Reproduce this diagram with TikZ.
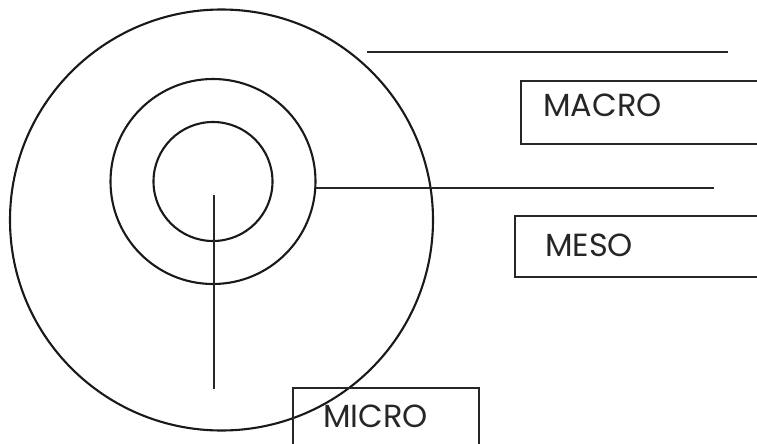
\documentclass[tikz,border=0pt]{standalone}
\usepackage{fontspec}
\setmainfont{Poppins}
\begin{document}
\begin{tikzpicture}[x=1pt,y=-1pt,
  ring/.style={draw=black!90,line width=2.1pt},
  rule/.style={draw=black!85,line width=2.3pt},
  labelbox/.style={draw=black!85,line width=2.3pt},
  lab/.style={anchor=base west,inner sep=0pt,font=\fontsize{32}{36}\selectfont,text=black!85}]
\useasboundingbox (0,0) rectangle (757,444);
\clip (0,0) rectangle (757,444);
% rings
\draw[ring] (221.5,220) ellipse [x radius=211.5, y radius=210.5];
\node[ring,circle,minimum size=205pt,inner sep=0pt] (meso) at (213,181.5) {};
\node[ring,circle,minimum size=119pt,inner sep=0pt] (micro) at (213,181.5) {};
% lines
\coordinate (t1) at (367,52);
\coordinate (t2) at (728,52);
\coordinate (m1) at (316,188);
\coordinate (m2) at (714,188);
\coordinate (v1) at (214,195);
\coordinate (v2) at (214,389);
\draw[rule] (t1) -- (t2);
\draw[rule] (m1) -- (m2);
\draw[rule] (v1) -- (v2);
% boxes
\draw[labelbox] (800,81) -- (521,81) -- (521,144) -- (800,144);
\draw[labelbox] (800,216) -- (515,216) -- (515,277) -- (800,277);
\draw[labelbox] (293,470) -- (293,388) -- (479,388) -- (479,470);
% labels
\node[lab] (macroL) at (543,116) {MACRO};
\node[lab] (mesoL) at (545,256) {MESO};
\node[lab] (microL) at (323,427) {MICRO};
\end{tikzpicture}
\end{document}
